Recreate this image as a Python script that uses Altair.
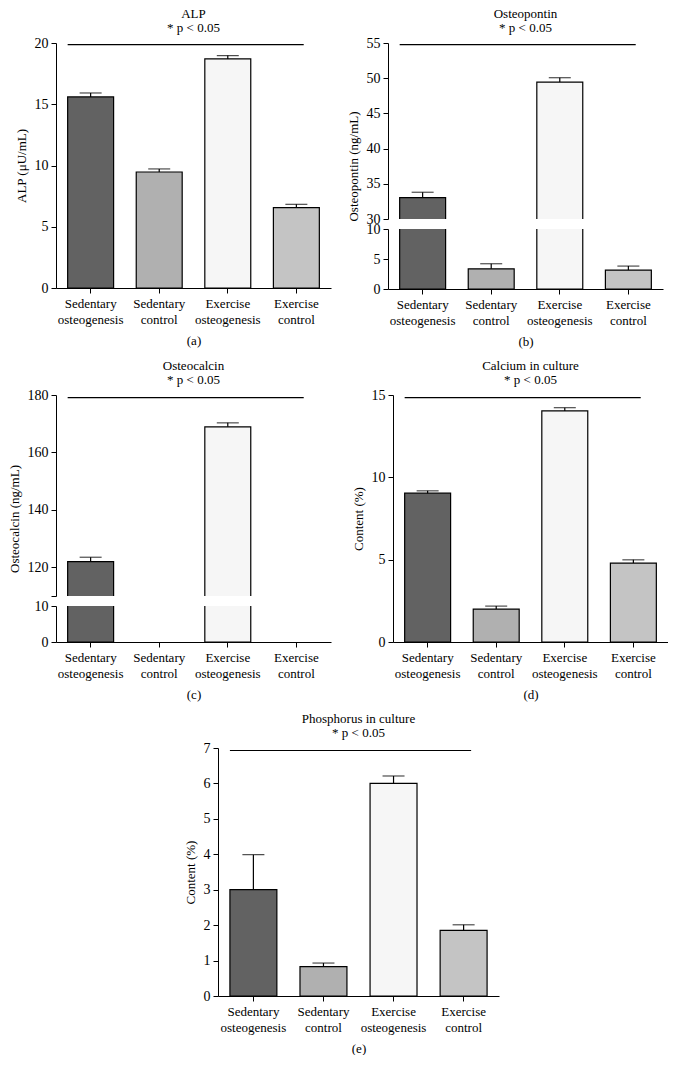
import altair as alt
import pandas as pd

cats = ["Sedentary osteogenesis", "Sedentary control", "Exercise osteogenesis", "Exercise control"]
fills = ["#626262", "#b0b0b0", "#f6f6f6", "#c4c4c4"]

alp = [15.6, 9.47, 18.7, 6.56]
alp_err = [0.32, 0.25, 0.27, 0.27]
opn = [33.05, 3.37, 49.45, 3.15]
opn_err = [0.75, 0.84, 0.62, 0.67]
ocn = [122.0, 0.0, 168.9, 0.0]
ocn_err = [1.5, 0.0, 1.4, 0.0]
ca = [9.04, 2.0, 14.03, 4.79]
ca_err = [0.14, 0.18, 0.2, 0.2]
phos = [3.0, 0.83, 6.0, 1.85]
phos_err = [0.99, 0.10, 0.21, 0.16]

FONT = "Liberation Serif"
XS = alt.Scale(domain=cats, paddingInner=0.33, paddingOuter=0.17)
NOVIEW = alt.ViewBackground(stroke="transparent", strokeWidth=0)


def frame(vals, errs):
    return pd.DataFrame({"cat": cats, "value": vals, "err": errs,
                         "top": [v + e for v, e in zip(vals, errs)], "fill": fills})


def xaxis(label):
    return alt.Axis(title=label, labelAngle=0, labelExpr="split(datum.label, ' ')",
                    labelFont=FONT, labelFontSize=13, labelColor="black",
                    titleFont=FONT, titleFontSize=13, titleFontWeight="normal",
                    titleColor="black", titlePadding=8, tickColor="black",
                    domainColor="black", tickSize=5, labelPadding=4, labelLineHeight=16)


def yaxis(values, title, labelExpr=None, titleY=None):
    kw = dict(values=values, title=title, orient="left", grid=False, labelOverlap=False,
              labelFont=FONT, labelFontSize=14, labelColor="black",
              titleFont=FONT, titleFontSize=13, titleFontWeight="normal", titleColor="black",
              tickColor="black", domainColor="black", tickSize=5, labelPadding=3,
              titlePadding=6)
    if labelExpr:
        kw["labelExpr"] = labelExpr
    if titleY is not None:
        kw["titleY"] = titleY
    return alt.Axis(**kw)


def title(t):
    return alt.TitleParams(text=t, subtitle="* p < 0.05", font=FONT, fontSize=13,
                           fontWeight="normal", subtitleFont=FONT, subtitleFontSize=13,
                           subtitleColor="black", color="black", anchor="middle",
                           offset=1, subtitlePadding=1)


def panel_layers(df, yscale, yax, xax, sig_y=None, clip=False):
    def X(field="cat:N", band=None):
        kw = dict(scale=XS, axis=xax)
        if band is not None:
            kw["bandPosition"] = band
        return alt.X(field, **kw)

    def Y(field):
        return alt.Y(field, scale=yscale, axis=yax)

    bar = alt.Chart(df).transform_filter("datum.value > 0").mark_bar(
        stroke="black", strokeWidth=1.2, clip=clip).encode(
        x=X(), y=Y("value:Q"), y2=alt.datum(0), fill=alt.Fill("fill:N", scale=None))
    eb = alt.Chart(df).transform_filter("datum.err > 0")
    rule = eb.mark_rule(color="black", strokeWidth=1.2, clip=clip).encode(
        x=X(), y=Y("value:Q"), y2="top:Q")
    cap = eb.mark_tick(color="black", thickness=1.2, size=22, clip=clip).encode(
        x=X(), y=Y("top:Q"))
    layers = [bar, rule, cap]
    if sig_y is not None:
        sig = alt.Chart(pd.DataFrame({"s": [cats[0]], "e": [cats[3]], "y": [sig_y]})).mark_rule(
            color="black", strokeWidth=1.2).encode(
            x=X("s:N", band=0), x2=alt.X2("e:N", bandPosition=0.66), y=Y("y:Q"))
        layers.append(sig)
    return layers


def simple_panel(vals, errs, dmax, ticks, ytitle, t, label, sig_y, w, h):
    df = frame(vals, errs)
    ys = alt.Scale(domain=[0, dmax], nice=False)
    layers = panel_layers(df, ys, yaxis(ticks, ytitle), xaxis(label), sig_y=sig_y)
    return alt.layer(*layers).properties(width=w, height=h, title=title(t), view=NOVIEW)


def broken_panel(vals, errs, up, up_h, lowmax, low_h, gap, up_ticks, low_ticks, ytitle, t, label,
                 sig_y, w, up_labelExpr=None):
    df = frame(vals, errs)
    total = up_h + gap + low_h
    us = alt.Scale(domain=up, nice=False, zero=False)
    ls = alt.Scale(domain=[0, lowmax], nice=False)
    upper = alt.layer(*panel_layers(df, us, yaxis(up_ticks, ytitle, up_labelExpr, titleY=total / 2),
                                    None, sig_y=sig_y, clip=True)).properties(
        width=w, height=up_h, title=title(t), view=NOVIEW)
    lower = alt.layer(*panel_layers(df, ls, yaxis(low_ticks, None), xaxis(label), clip=True)).properties(
        width=w, height=low_h, view=NOVIEW)
    return alt.vconcat(upper, lower, spacing=gap, bounds="flush")


pa = simple_panel(alp, alp_err, 20, [0, 5, 10, 15, 20], "ALP (μU/mL)", "ALP", "(a)", 19.87, 275, 245)
pb = broken_panel(opn, opn_err, [30, 55], 176, 10, 60, 10, [30, 35, 40, 45, 50, 55], [0, 5, 10],
                  "Osteopontin (ng/mL)", "Osteopontin", "(b)", 54.77, 275)
pc = broken_panel(ocn, ocn_err, [110, 180], 201, 10, 36, 10, [110, 120, 140, 160, 180], [0, 10],
                  "Osteocalcin (ng/mL)", "Osteocalcin", "(c)", 179.1, 275,
                  up_labelExpr="datum.value == 110 ? '' : datum.label")
pd_ = simple_panel(ca, ca_err, 15, [0, 5, 10, 15], "Content (%)", "Calcium in culture", "(d)", 14.84, 275, 247)
pe = simple_panel(phos, phos_err, 7, [0, 1, 2, 3, 4, 5, 6, 7], "Content (%)", "Phosphorus in culture", "(e)",
                  6.93, 281, 248)

spacer = alt.Chart(pd.DataFrame({"a": [0]})).mark_text(text="").properties(
    width=128, height=10, view=NOVIEW)

top_rows = alt.vconcat(
    alt.hconcat(pa, pb, spacing=16),
    alt.hconcat(pc, pd_, spacing=21),
    spacing=12,
)
chart = alt.vconcat(
    top_rows,
    alt.hconcat(spacer, pe, spacing=0),
    spacing=12,
).configure_view(stroke="transparent", strokeWidth=0).configure(background="white", padding=0)

chart.save("out.html", embed_options={"renderer": "svg", "actions": False})
